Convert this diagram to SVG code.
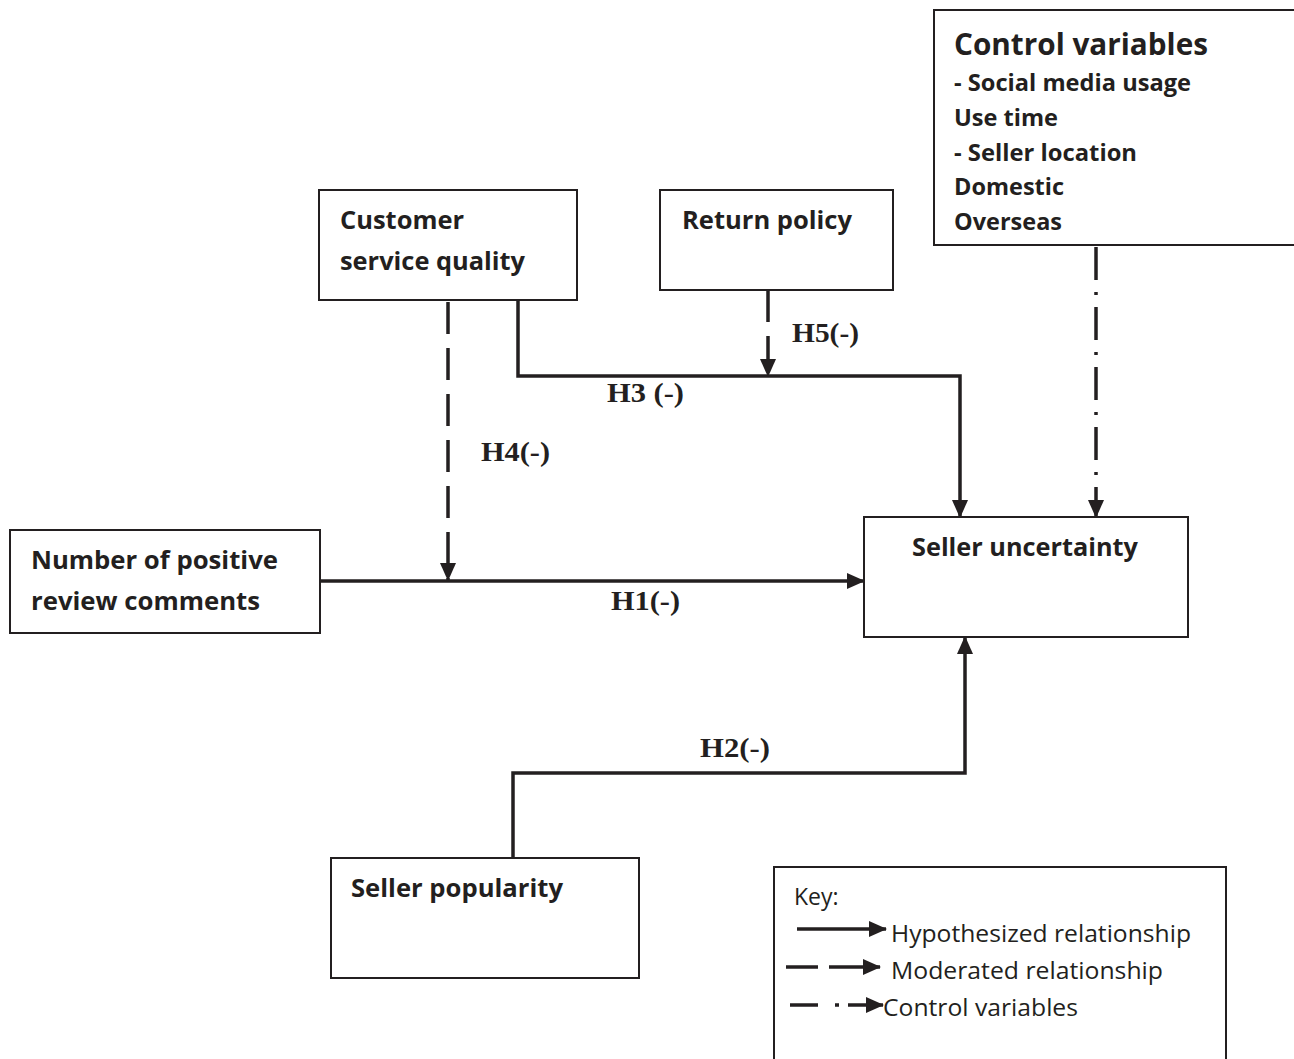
<svg xmlns="http://www.w3.org/2000/svg" width="1294" height="1059" viewBox="0 0 1294 1059">
<style>
.box{fill:#fff;stroke:#231f20;stroke-width:2}
.t{font-family:"Open Sans",Lato,sans-serif;font-weight:bold;font-size:25px;fill:#231f20}
.k{font-family:"Open Sans",Lato,sans-serif;font-size:23px;fill:#231f20}
.h{font-family:"Liberation Serif",serif;font-weight:bold;font-size:27px;fill:#231f20}
.ln{fill:none;stroke:#231f20;stroke-width:3.5}
</style>
<defs>
<marker id="ah" markerUnits="userSpaceOnUse" markerWidth="18" markerHeight="16" refX="17" refY="8" orient="auto">
<path d="M0,0 L18,8 L0,16 Z" fill="#231f20"/>
</marker>
</defs>
<rect width="1294" height="1059" fill="#fff"/>

<g id="connectors">
<!-- H1 -->
<path class="ln" d="M320,581 H864" marker-end="url(#ah)"/>
<!-- H4 dashed -->
<path class="ln" d="M448,302 V580" stroke-dasharray="32,14" marker-end="url(#ah)"/>
<!-- H3 -->
<path class="ln" d="M518,300 V376 H960 V517" marker-end="url(#ah)"/>
<!-- H5 dashed -->
<path class="ln" d="M768,290 V376" stroke-dasharray="32,14" marker-end="url(#ah)"/>
<!-- H2 -->
<path class="ln" d="M513,858 V773 H965 V637" marker-end="url(#ah)"/>
<!-- control dash-dot -->
<path class="ln" d="M1096,247 V517" stroke-dasharray="33,12,3,12" marker-end="url(#ah)"/>
</g>

<g id="labels">
<text class="h" x="792" y="342" textLength="67" lengthAdjust="spacingAndGlyphs">H5(-)</text>
<text class="h" x="607" y="402" textLength="77" lengthAdjust="spacingAndGlyphs">H3 (-)</text>
<text class="h" x="481" y="461" textLength="69" lengthAdjust="spacingAndGlyphs">H4(-)</text>
<text class="h" x="611" y="610" textLength="69" lengthAdjust="spacingAndGlyphs">H1(-)</text>
<text class="h" x="700" y="757" textLength="70" lengthAdjust="spacingAndGlyphs">H2(-)</text>
</g>

<g id="control">
<rect class="box" x="934" y="10" width="362" height="235"/>
<text class="t" x="954" y="55" style="font-size:30px" textLength="254" lengthAdjust="spacingAndGlyphs">Control variables</text>
<text class="t" x="954" y="91" style="font-size:23px" textLength="237" lengthAdjust="spacingAndGlyphs">- Social media usage</text>
<text class="t" x="954" y="126" style="font-size:23px" textLength="104" lengthAdjust="spacingAndGlyphs">Use time</text>
<text class="t" x="954" y="161" style="font-size:23px" textLength="183" lengthAdjust="spacingAndGlyphs">- Seller location</text>
<text class="t" x="954" y="195" style="font-size:23px" textLength="110" lengthAdjust="spacingAndGlyphs">Domestic</text>
<text class="t" x="954" y="230" style="font-size:23px" textLength="108" lengthAdjust="spacingAndGlyphs">Overseas</text>
</g>

<g id="customer">
<rect class="box" x="319" y="190" width="258" height="110"/>
<text class="t" x="340" y="229" textLength="124" lengthAdjust="spacingAndGlyphs">Customer</text>
<text class="t" x="340" y="270" textLength="185" lengthAdjust="spacingAndGlyphs">service quality</text>
</g>

<g id="return">
<rect class="box" x="660" y="190" width="233" height="100"/>
<text class="t" x="682" y="229" textLength="170" lengthAdjust="spacingAndGlyphs">Return policy</text>
</g>

<g id="positive">
<rect class="box" x="10" y="530" width="310" height="103"/>
<text class="t" x="31" y="569" textLength="247" lengthAdjust="spacingAndGlyphs">Number of positive</text>
<text class="t" x="31" y="610" textLength="229" lengthAdjust="spacingAndGlyphs">review comments</text>
</g>

<g id="uncertainty">
<rect class="box" x="864" y="517" width="324" height="120"/>
<text class="t" x="912" y="556" textLength="226" lengthAdjust="spacingAndGlyphs">Seller uncertainty</text>
</g>

<g id="popularity">
<rect class="box" x="331" y="858" width="308" height="120"/>
<text class="t" x="351" y="897" textLength="212" lengthAdjust="spacingAndGlyphs">Seller popularity</text>
</g>

<g id="key">
<rect class="box" x="774" y="867" width="452" height="200"/>
<text class="k" x="794" y="905">Key:</text>
<path class="ln" d="M797,929 H886" marker-end="url(#ah)"/>
<text class="k" x="891" y="942" textLength="300" lengthAdjust="spacingAndGlyphs">Hypothesized relationship</text>
<path class="ln" d="M786,967 H818 M829,967 H880" marker-end="url(#ah)"/>
<text class="k" x="891" y="979" textLength="272" lengthAdjust="spacingAndGlyphs">Moderated relationship</text>
<path class="ln" d="M790,1005 H818 M835,1005 H839 M848,1005 H883" marker-end="url(#ah)"/>
<text class="k" x="883" y="1016" textLength="195" lengthAdjust="spacingAndGlyphs">Control variables</text>
</g>
</svg>
